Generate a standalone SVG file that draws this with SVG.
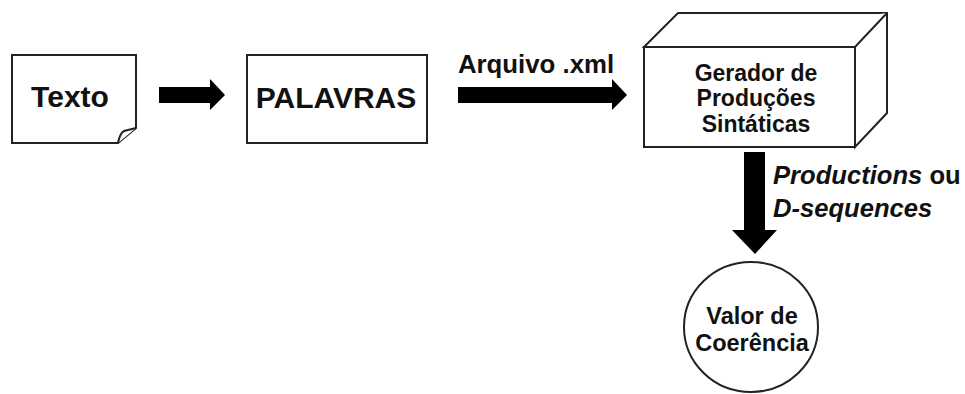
<svg xmlns="http://www.w3.org/2000/svg" width="965" height="394" viewBox="0 0 965 394">
  <style>
    .shape { fill: #fff; stroke: #222; stroke-width: 2; stroke-linejoin: miter; }
    .arrow { fill: #000; stroke: none; }
    .lbl { font-family: "Liberation Sans", Arial, Helvetica, sans-serif; font-weight: bold; fill: #111; }
    .mid { text-anchor: middle; }
    .it { font-style: italic; }
  </style>
  <rect width="965" height="394" fill="#fff"/>

  <!-- document node with a curled corner -->
  <g id="texto">
    <path class="shape" d="M12,55 L136,55 L136,128 L118,143 L12,143 Z"/>
    <path class="shape" d="M118,143 Q120,133 124,131 L136,128"/>
    <text class="lbl mid" x="70" y="107" font-size="30">Texto</text>
  </g>

  <g id="palavras">
    <rect class="shape" x="247" y="55" width="180" height="88"/>
    <text class="lbl mid" x="336" y="108" font-size="30">PALAVRAS</text>
  </g>

  <!-- 3D block -->
  <g id="gerador">
    <path class="shape" d="M644,47 L678,13 L887,13 L887,113 L855,147 L855,47 Z"/>
    <path class="shape" d="M644,47 L855,47 L887,13"/>
    <rect class="shape" x="644" y="47" width="211" height="100"/>
    <text class="lbl mid" x="756" y="81" font-size="23">Gerador de</text>
    <text class="lbl mid" x="756" y="106" font-size="23">Produções</text>
    <text class="lbl mid" x="756" y="132" font-size="23">Sintáticas</text>
  </g>

  <g id="valor">
    <ellipse class="shape" cx="751" cy="327" rx="67" ry="65"/>
    <text class="lbl mid" x="752" y="324" font-size="23.5">Valor de</text>
    <text class="lbl mid" x="752" y="351" font-size="23.5">Coerência</text>
  </g>

  <!-- block arrows and their labels -->
  <g id="connectors">
    <polygon class="arrow" points="159,87 210,87 210,79 225,95 210,110 210,103 159,103"/>
    <polygon class="arrow" points="458,87 612,87 612,79 627,95 612,110 612,103 458,103"/>
    <text class="lbl mid" x="536" y="73" font-size="25.8">Arquivo .xml</text>
    <polygon class="arrow" points="744,152 765,152 765,230 777,230 755,254 732,230 744,230"/>
    <text class="lbl" x="773" y="184" font-size="25.6"><tspan class="it">Productions</tspan> ou</text>
    <text class="lbl it" x="773" y="217" font-size="25.6">D-sequences</text>
  </g>
</svg>
